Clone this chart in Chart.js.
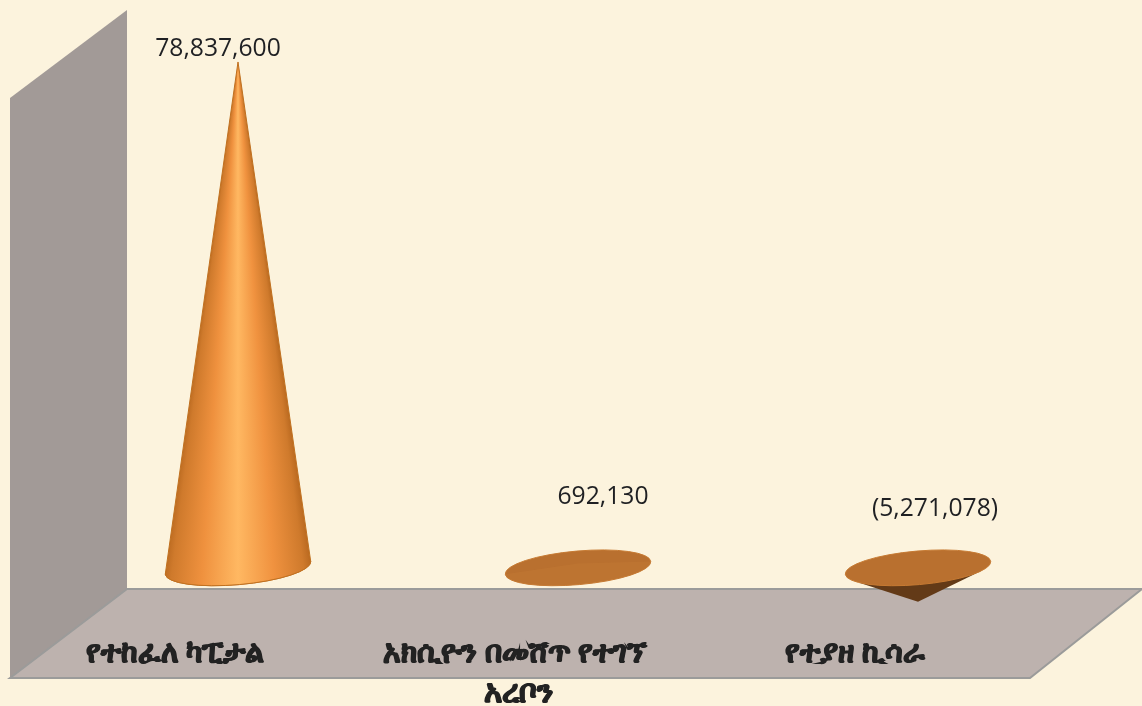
<!DOCTYPE html>
<html>
<head>
<meta charset="utf-8">
<style>
html,body{margin:0;padding:0;background:#fcf3dd;}
#wrap{position:relative;width:1142px;height:706px;}
canvas{display:block;}
</style>
<script src="https://cdn.jsdelivr.net/npm/chart.js@4"></script>
</head>
<body>
<div id="wrap"><canvas id="c" width="1142" height="706"></canvas></div>
<script>
const categories = ['የተከፈለ ካፒታል', 'አክሲዮን በመሸጥ የተገኘ', 'የተያዘ ኪሳራ'];
const values = [78837600, 692130, -5271078];
const valueLabels = ['78,837,600', '692,130', '(5,271,078)'];
const axisTitle = 'አረቦን';

const labelFont = 'bold 31px "Noto Sans","DejaVu Sans",sans-serif';
const valueFont = '24.7px "Open Sans","Noto Sans",sans-serif';
const labelShift = [[-20,-13],[25,-66],[17,-59]];
const coneRx = 73, coneRy = 16.8, tilt = -5 * Math.PI / 180;

function ellPoint(cx, cy, ang) {
  const x = coneRx * Math.cos(ang), y = coneRy * Math.sin(ang);
  return [cx + x * Math.cos(tilt) - y * Math.sin(tilt), cy + x * Math.sin(tilt) + y * Math.cos(tilt)];
}

const scene = {
  id: 'scene',
  beforeDraw(chart) {
    const g = chart.ctx;
    const a = chart.chartArea;
    const L = a.left - 58, B = a.bottom + 46, bx = 117, by = 89, W = 1020;
    g.save();
    g.beginPath();
    g.moveTo(L, B); g.lineTo(L + bx, B - by); g.lineTo(L + bx, B - by - 579); g.lineTo(L, B - 580);
    g.closePath();
    g.fillStyle = '#a29a97'; g.fill();
    g.beginPath();
    g.moveTo(L, B); g.lineTo(L + bx, B - by); g.lineTo(L + W + 112, B - by); g.lineTo(L + W, B);
    g.closePath();
    g.fillStyle = '#bdb2ae'; g.fill();
    g.strokeStyle = '#9b9b9a'; g.lineWidth = 2; g.stroke();
    g.restore();
  },
  afterDatasetsDraw(chart) {
    const g = chart.ctx;
    const meta = chart.getDatasetMeta(0);
    meta.data.forEach((el, i) => {
      const cx = el.x, cy = el.base, tipY = el.y, h = cy - tipY;
      const right = ellPoint(cx, cy, 0);
      g.save();
      if (h < 0) {
        const tl = ellPoint(cx, cy, 2.55), tr = ellPoint(cx, cy, 0.5);
        g.beginPath(); g.moveTo(tl[0], tl[1]); g.lineTo(cx, tipY); g.lineTo(tr[0], tr[1]); g.closePath();
        g.fillStyle = '#633a17'; g.fill();
      }
      g.beginPath();
      g.ellipse(cx, cy, coneRx, coneRy, tilt, 0, Math.PI * 2);
      g.fillStyle = '#b9702f'; g.fill();
      g.strokeStyle = '#c67a33'; g.lineWidth = 1; g.stroke();
      if (h > 0) {
        g.beginPath();
        g.moveTo(cx, tipY);
        g.lineTo(right[0], right[1]);
        g.ellipse(cx, cy, coneRx, coneRy, tilt, 0, Math.PI);
        g.closePath();
        if (h > 40) {
          const half = Math.atan2(coneRx, h) * 1.02;
          const lg = g.createConicGradient(Math.PI / 2 - half, cx, tipY);
          const span = 2 * half / (2 * Math.PI);
          [[0,'#b8681f'],[0.06,'#cf7a2c'],[0.26,'#f0923f'],[0.5,'#ffb862'],[0.74,'#ef913e'],[0.94,'#cf7a2c'],[1,'#b8681f']]
            .forEach(s => lg.addColorStop(s[0] * span, s[1]));
          lg.addColorStop(span + 0.001, '#b8681f');
          lg.addColorStop(1, '#b8681f');
          g.fillStyle = lg; g.fill();
          g.strokeStyle = '#c0701f'; g.lineWidth = 1; g.stroke();
        } else {
          g.fillStyle = '#c47a36'; g.globalAlpha = 0.45; g.fill();
        }
      }
      g.restore();
    });
    g.save();
    g.fillStyle = '#1f2023'; g.font = valueFont; g.textAlign = 'center'; g.textBaseline = 'middle';
    meta.data.forEach((el, i) => {
      const ref = values[i] < 0 ? el.base : el.y;
      g.fillText(valueLabels[i], el.x + labelShift[i][0], ref + labelShift[i][1]);
    });
    g.font = labelFont; g.fillStyle = '#222'; g.strokeStyle = '#222'; g.lineWidth = 1.2;
    const mid = chart.scales.x.getPixelForValue(1) - 60;
    g.fillText(axisTitle, mid, chart.chartArea.bottom + 61);
    g.strokeText(axisTitle, mid, chart.chartArea.bottom + 61);
    g.restore();
  }
};

new Chart(document.getElementById('c'), {
  type: 'bar',
  data: { labels: categories, datasets: [{ data: values, backgroundColor: 'rgba(0,0,0,0)', borderWidth: 0 }] },
  options: {
    responsive: false,
    animation: false,
    devicePixelRatio: 1,
    layout: { padding: { top: 54.5, left: 68, right: 54, bottom: 0 } },
    plugins: { legend: { display: false }, tooltip: { enabled: false } },
    scales: {
      x: {
        grid: { display: false }, border: { display: false },
        afterFit(s) { s.height = 74; },
        ticks: { color: '#222', textStrokeColor: '#222', textStrokeWidth: 1.2, font: { size: 29.5, weight: 'bold', family: '"Noto Sans","DejaVu Sans",sans-serif' }, labelOffset: -63, padding: -4, maxRotation: 0, autoSkip: false }
      },
      y: { display: false, min: -10000000, max: 80000000 }
    }
  },
  plugins: [scene]
});
</script>
</body>
</html>
